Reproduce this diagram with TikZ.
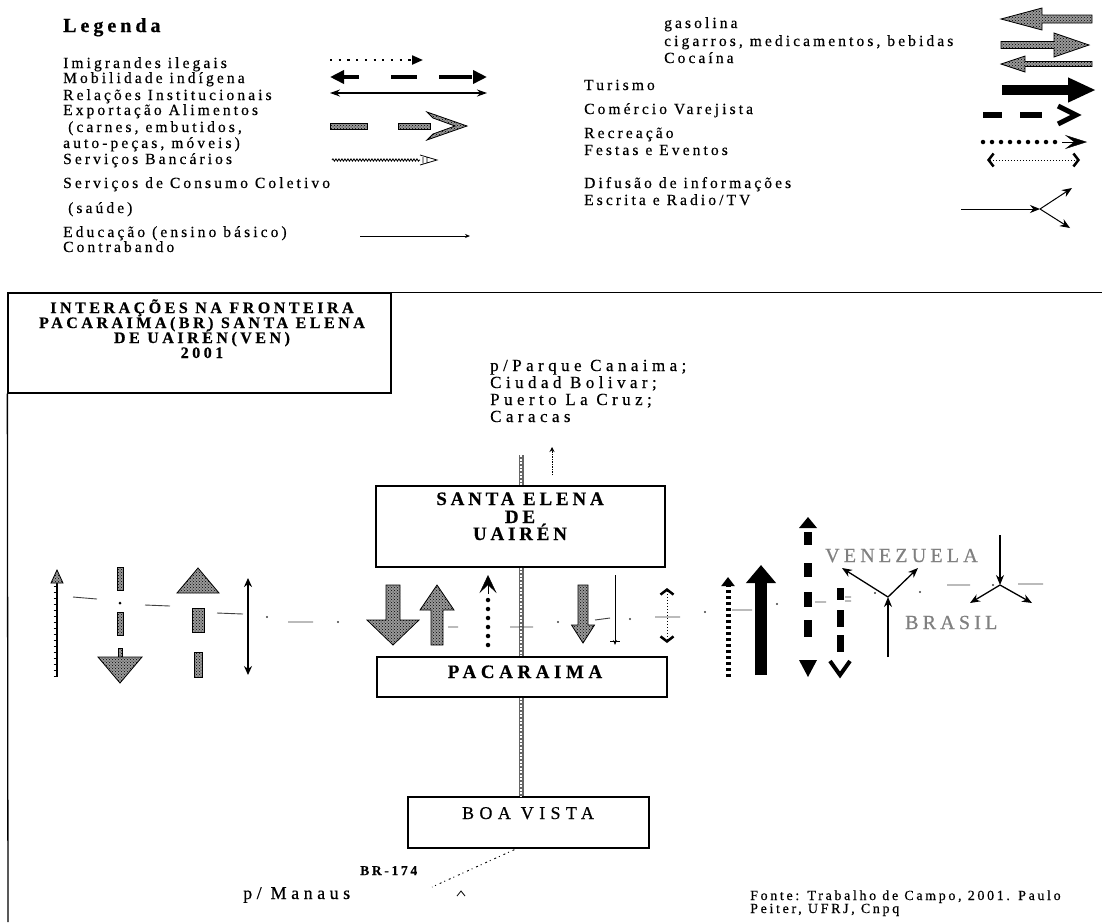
\documentclass[tikz,border=0pt]{standalone}
\usepackage{fontspec}
\setmainfont{Liberation Serif}[LetterSpace=20, FakeBold=0.5]
\usetikzlibrary{arrows.meta,patterns,decorations.pathmorphing,calc}
% vertical block arrow: x, tail y, tip y, shaft w, head w, head-base y, style
\newcommand\vblock[7]{\path[#7] ({#1-#4/2},#2) -- ({#1-#4/2},#6) -- ({#1-#5/2},#6) -- (#1,#3) -- ({#1+#5/2},#6) -- ({#1+#4/2},#6) -- ({#1+#4/2},#2) -- cycle;}
% horizontal block arrow: y, tail x, tip x, shaft h, head h, head-base x, style
\newcommand\hblock[7]{\path[#7] (#2,{#1-#4/2}) -- (#6,{#1-#4/2}) -- (#6,{#1-#5/2}) -- (#3,#1) -- (#6,{#1+#5/2}) -- (#6,{#1+#4/2}) -- (#2,{#1+#4/2}) -- cycle;}
\begin{document}
\begin{tikzpicture}[x=1pt,y=-1pt,
  lbl/.style={anchor=base west, inner sep=0pt, font=\fontsize{15.5}{16}\selectfont},
  ctr/.style={anchor=base, inner sep=0pt},
  ttl/.style={ctr, font=\bfseries\fontsize{16}{16}\selectfont\addfontfeature{LetterSpace=22}},
  city/.style={ctr, font=\bfseries\fontsize{19}{18}\selectfont\addfontfeature{LetterSpace=20}},
  route/.style={lbl, font=\fontsize{17}{17}\selectfont\addfontfeature{LetterSpace=26}},
  country/.style={anchor=base west, inner sep=0pt, text=black!50, font=\fontsize{20}{20}\selectfont\addfontfeature{LetterSpace=21}},
  box/.style={draw, line width=1.3pt, inner sep=0pt},
  frame/.style={line width=1.3pt},
  hatch/.style={draw=black, line width=0.8pt, preaction={fill=black!40}, pattern=crosshatch dots, pattern color=black},
  road/.style={line width=5pt, draw=black!60, postaction={draw=white, line width=1.6pt, dash pattern=on 2pt off 1.5pt}},
  rel/.style={line width=1.5pt, {Stealth[length=9pt,width=8pt]}-{Stealth[length=9pt,width=8pt]}},
  imi/.style={line width=2.2pt, dash pattern=on 2.2pt off 6.5pt, -{Triangle[length=11pt,width=9pt]}},
  edu/.style={line width=0.8pt, -{Stealth[length=5pt,width=4pt]}},
  dif/.style={line width=1.3pt, -{Stealth[length=10pt,width=8pt]}},
  fest/.style={line width=1pt, dash pattern=on 1pt off 2pt, {Straight Barb[length=5pt,width=13pt,line width=2.5pt]}-{Straight Barb[length=5pt,width=13pt,line width=2.5pt]}},
  recdots/.style={line width=4.5pt, dash pattern=on 0pt off 9pt, line cap=round},
  noise/.style={line width=0.9pt, black!75},
  dotn/.style={black!75}
]
\useasboundingbox (0,0) rectangle (1102,922);
\fill[white] (0,0) rectangle (1102,922);

% ---------------- legend, left ----------------
\node[lbl, font=\bfseries\fontsize{20}{20}\selectfont\addfontfeature{LetterSpace=20}] (legenda) at (63,32) {Legenda};
\node[lbl] (l1) at (63,68) {Imigrandes ilegais};
\node[lbl] (l2) at (63,83) {Mobilidade indígena};
\node[lbl] (l3) at (63,100) {Relações Institucionais};
\node[lbl] (l4) at (63,115) {Exportação Alimentos};
\node[lbl] (l5) at (68,132) {(carnes, embutidos,};
\node[lbl] (l6) at (63,148) {auto-peças, móveis)};
\node[lbl] (l7) at (63,164) {Serviços Bancários};
\node[lbl] (l8) at (63,188) {Serviços de Consumo Coletivo};
\node[lbl] (l9) at (68,213) {(saúde)};
\node[lbl] (l10) at (63,237) {Educação (ensino básico)};
\node[lbl] (l11) at (63,252) {Contrabando};

% legend symbols, left
\draw[imi] (330,60) -- (423,60);
\draw[line width=4pt, dash pattern=on 16pt off 32pt on 26pt off 22pt on 33pt off 10pt,
  {Triangle[length=14pt,width=13pt]}-{Triangle[length=14pt,width=13pt]}] (330,77) -- (487,77);
\draw[line width=1.2pt, {Stealth[length=10pt,width=7pt]}-{Stealth[length=10pt,width=7pt]}] (330,93) -- (487,93);
\path[hatch] (330,123) rectangle (367,129);
\path[hatch] (398,123) rectangle (430,129);
\path[hatch] (427,112) -- (467,126) -- (427,140) -- (433,134) -- (455,126) -- (433,118) -- cycle;
\draw[line width=0.8pt, decorate, decoration={snake, amplitude=1.2pt, segment length=3pt}] (332,160) -- (420,160);
\draw[line width=0.8pt] (420,155) -- (437,160) -- (420,165) (423,157) -- (423,163) (427,157) -- (427,163);
\draw[edu] (360,236) -- (470,236);

% ---------------- legend, right ----------------
\node[lbl] (r1) at (664,28) {gasolina};
\node[lbl] (r2) at (664,46) {cigarros, medicamentos, bebidas};
\node[lbl] (r3) at (664,63) {Cocaína};
\node[lbl] (r4) at (584,90) {Turismo};
\node[lbl] (r5) at (584,114) {Comércio Varejista};
\node[lbl] (r6) at (584,138) {Recreação};
\node[lbl] (r7) at (584,155) {Festas e Eventos};
\node[lbl] (r8) at (584,188) {Difusão de informações};
\node[lbl] (r9) at (584,205) {Escrita e Radio/TV};

\hblock{19}{1092}{1001}{8}{22}{1042}{hatch}
\hblock{45}{1001}{1089}{7}{24}{1054}{hatch}
\hblock{64}{1092}{1001}{5}{16}{1025}{hatch}
\draw[line width=10pt, -{Triangle[length=28pt,width=23pt]}] (1002,90) -- (1096,90);
\draw[line width=6pt] (983,115) -- (1002,115) (1020,115) -- (1042,115);
\draw[line width=5pt] (1058,106) -- (1076,115) -- (1058,124);
\draw[recdots] (983,142) -- (1062,142);
\draw[-{Stealth[length=22pt,width=14pt,inset=9pt]}] (1062,142) -- (1087,142);
\draw[fest] (987,160) -- (1080,160);
\coordinate (j0) at (1040,209);
\coordinate (d0) at (961,209);
\coordinate (d1) at (1072,188);
\coordinate (d2) at (1070,228);
\draw[dif, line width=1pt] (d0) -- (j0);
\draw[dif, line width=1pt] (j0) -- (d1);
\draw[dif, line width=1pt] (j0) -- (d2);

% ---------------- frame and title ----------------
\node[box, minimum width=383pt, minimum height=100pt] (tbox) at (199.5,343) {};
\coordinate (fr) at (1102,922);
\coordinate (fb) at (8,922);
\draw[frame] (tbox.north east) -- (tbox.north east -| fr);
\draw[frame] (tbox.south west) -- (fb);
\node[ttl] (t1) at (202,313) {INTERAÇÕES NA FRONTEIRA};
\node[ttl] (t2) at (202,328) {PACARAIMA(BR) SANTA ELENA};
\node[ttl] (t3) at (202,343) {DE UAIRÉN(VEN)};
\node[ttl] (t4) at (202,358) {2001};

% route text
\node[route] (p1) at (490,371) {p/Parque Canaima;};
\node[route] (p2) at (490,388) {Ciudad Bolivar;};
\node[route] (p3) at (490,405) {Puerto La Cruz;};
\node[route] (p4) at (490,422) {Caracas};

% ---------------- city boxes ----------------
\node[box, minimum width=289pt, minimum height=81pt] (se) at (520.5,526.5) {};
\node[city] (se1) at (520,505) {SANTA ELENA};
\node[city] (se2) at (520,523) {DE};
\node[city] (se3) at (520,540) {UAIRÉN};
\node[box, minimum width=290pt, minimum height=40pt] (pac) at (522,677) {};
\node[city, font=\bfseries\fontsize{19}{18}\selectfont\addfontfeature{LetterSpace=24}] (pacl) at (525,678) {PACARAIMA};
\node[box, minimum width=241pt, minimum height=51pt] (bv) at (528.5,822.5) {};
\node[ctr, font=\fontsize{18}{18}\selectfont\addfontfeature{LetterSpace=30}] (bvl) at (528,819) {BOA VISTA};

% road
\coordinate (rt) at (521,455);
\draw[road] (rt) -- (rt |- se.north);
\draw[road] (rt |- se.south) -- (rt |- pac.north);
\draw[road] (rt |- pac.south) -- (rt |- bv.north);
\coordinate (up1) at (552,475);
\coordinate (up2) at (552,447);
\draw[line width=0.8pt, dash pattern=on 1.5pt off 1pt, -{Stealth[length=5pt,width=5pt]}] (up1) -- (up2);

% BR-174
\coordinate (bvs) at (518,848);
\coordinate (man) at (432,887);
\draw[line width=0.9pt, dash pattern=on 1pt off 3pt on 2pt off 4pt] (bvs) -- (man);
\node[lbl, font=\bfseries\fontsize{13.5}{14}\selectfont\addfontfeature{LetterSpace=20}] (br) at (360,875) {BR-174};
\node[lbl, font=\fontsize{18}{18}\selectfont\addfontfeature{LetterSpace=25}] (mn) at (243,899) {p/ Manaus};
\draw[line width=0.8pt] (457,896) -- (461,891) -- (465,896);
\node[lbl, font=\fontsize{14}{13}\selectfont\addfontfeature{LetterSpace=19}] (f1) at (750,900) {Fonte: Trabalho de Campo, 2001. Paulo};
\node[lbl, font=\fontsize{14}{13}\selectfont\addfontfeature{LetterSpace=19}] (f2) at (750,913) {Peiter, UFRJ, Cnpq};

% ---------------- interaction arrows ----------------
% A1 serviços bancários (up)
\draw[line width=1.5pt] (57,677) -- (57,582);
\foreach \yy in {586,592,...,676} \draw[line width=0.8pt] (53.5,\yy) -- (57,\yy);
\path[hatch] (51,583) -- (57,570) -- (63,583) -- cycle;
% A2 exportação (down)
\path[hatch] (117,567) rectangle (123,590);
\fill (120,603) circle (1.5);
\path[hatch] (117,612) rectangle (123,635);
\path[hatch] (118,648) rectangle (122,657);
\path[hatch] (98,657) -- (142,657) -- (120,683) -- cycle;
% A3 exportação (up)
\path[hatch] (177,593) -- (198,568) -- (219,593) -- cycle;
\path[hatch] (192,608) rectangle (204,632);
\path[hatch] (194,652) rectangle (202,677);
% A4 relações
\draw[rel] (248,578) -- (248,675);
% A5 gasolina (down)
\vblock{393}{585}{645}{14}{52}{620}{hatch}
% A6 cigarros (up)
\vblock{437}{645}{585}{12}{34}{610}{hatch}
% A7 recreação (up)
\draw[recdots] (488,645) -- (488,596);
\draw[-{Stealth[length=18pt,width=17pt,inset=8pt]}] (488,594) -- (488,575);
% A8 cocaína (down)
\vblock{583}{585}{643}{10}{23}{625}{hatch}
% A9 educação (down)
\draw[edu] (615,575) -- (615,645);
\draw[line width=0.7pt] (610,641) -- (620,641);
% A10 festas
\draw[fest] (667,588) -- (667,643);
% A11 recreação (up)
\draw[line width=5pt, dash pattern=on 3.5pt off 2.5pt, -{Triangle[length=9pt,width=13pt]}] (728,677) -- (728,577);
% A12 turismo (up)
\draw[line width=12pt, -{Triangle[length=18pt,width=29pt]}] (761,675) -- (761,565);
% A13 mobilidade indígena (both)
\fill (799,528) -- (808,517) -- (817,528) -- cycle;
\fill (799,660) -- (808,677) -- (817,660) -- cycle;
\foreach \ya/\yb in {532/545,563/577,592/607,620/637}
  \draw[line width=8pt] (808,\ya) -- (808,\yb);
% A14 comércio varejista (down)
\foreach \ya/\yb in {588/600,610/627,635/652}
  \draw[line width=7pt] (840,\ya) -- (840,\yb);
\draw[line width=4pt] (830,661) -- (840,675) -- (850,661);
% Y1 difusão
\coordinate (j1) at (888,597);
\coordinate (y1a) at (888,657);
\coordinate (y1b) at (842,568);
\coordinate (y1c) at (918,568);
\draw[dif] (y1a) -- (j1);
\draw[dif] (j1) -- (y1b);
\draw[dif] (j1) -- (y1c);
% Y2 difusão
\coordinate (j2) at (1000,585);
\coordinate (y2a) at (1000,535);
\coordinate (y2b) at (970,603);
\coordinate (y2c) at (1032,603);
\draw[dif] (y2a) -- (j2);
\draw[dif] (j2) -- (y2b);
\draw[dif] (j2) -- (y2c);
\node[country] (ven) at (825,562) {VENEZUELA};
\node[country] (bra) at (905,629) {BRASIL};

% small scattered marks
\draw[noise] (73,597) -- (97,599) (145,605) -- (170,606) (217,613) -- (243,614)
  (288,622) -- (313,622) (510,627) -- (533,627) (595,620) -- (610,618)
  (655,617) -- (680,617) (732,610) -- (752,610) (815,602) -- (826,602)
  (845,597) -- (851,597) (845,601) -- (851,601) (947,585) -- (970,585) (1018,584) -- (1043,584)
  (448,627) -- (458,627);
\foreach \p in {(267,617),(338,622),(558,622),(630,619),(705,612),(777,604),(875,593),(920,592),(993,585)}
  \fill[dotn] \p circle (1.2);
\end{tikzpicture}
\end{document}
